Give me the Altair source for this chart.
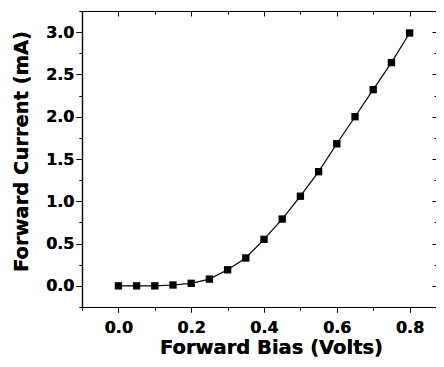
import altair as alt
import pandas as pd

# Data
bias_volts = [0.00, 0.05, 0.10, 0.15, 0.20, 0.25, 0.30, 0.35, 0.40,
              0.45, 0.50, 0.55, 0.60, 0.65, 0.70, 0.75, 0.80]
current_ma = [0.00, 0.00, 0.00, 0.01, 0.03, 0.08, 0.19, 0.33, 0.55,
              0.79, 1.06, 1.35, 1.68, 2.00, 2.32, 2.64, 2.99]

x_ticks = [-0.1, 0.0, 0.1, 0.2, 0.3, 0.4, 0.5, 0.6, 0.7, 0.8]
y_ticks = [-0.25, 0.0, 0.25, 0.5, 0.75, 1.0, 1.25, 1.5, 1.75, 2.0,
           2.25, 2.5, 2.75, 3.0, 3.25]
# the reference frame is cut at the right edge of the picture
x_domain = [-0.1, 0.8725]
y_domain = [-0.25, 3.25]

x_title = "Forward Bias (Volts)"
y_title = "Forward Current (mA)"

df = pd.DataFrame({"bias": bias_volts, "current": current_ma})

W, H = 354, 296
FONT = "DejaVu Sans"

x_major = "round(datum.value*10) % 2 == 0"
y_major = "round(datum.value*4) % 2 == 0"

x_scale = alt.Scale(domain=x_domain, nice=False, zero=False)
y_scale = alt.Scale(domain=y_domain, nice=False, zero=False)

x_main = alt.X(
    "bias:Q", scale=x_scale,
    axis=alt.Axis(
        orient="bottom", values=x_ticks, grid=False,
        tickSize={"condition": {"test": x_major, "value": 5}, "value": 3},
        labelExpr=f"{x_major} ? format(datum.value, '.1f') : ''",
        labelPadding=7, labelFont=FONT, labelFontSize=16, labelFontWeight="bold",
        labelColor="black", labelFlush=False, labelOverlap=False,
        tickColor="black", domainColor="black", tickWidth=1, domainWidth=1.2,
        title=x_title, titleFont=FONT, titleFontSize=19.5, titleFontWeight="bold",
        titleColor="black", titleX=189, titleY=46, titleBaseline="alphabetic",
    ),
)
y_main = alt.Y(
    "current:Q", scale=y_scale,
    axis=alt.Axis(
        orient="left", values=y_ticks, grid=False,
        tickSize={"condition": {"test": y_major, "value": 6}, "value": 3},
        labelExpr=f"{y_major} ? format(datum.value, '.1f') : ''",
        labelPadding=2, labelFont=FONT, labelFontSize=16, labelFontWeight="bold",
        labelColor="black", labelFlush=False, labelOverlap=False,
        tickColor="black", domainColor="black", tickWidth=1, domainWidth=1.2,
        title=y_title, titleFont=FONT, titleFontSize=19.5, titleFontWeight="bold",
        titleColor="black", titleX=-55, titleY=140, titleBaseline="alphabetic",
        titleAngle=270,
    ),
)

base = alt.Chart(df)

line = base.mark_line(color="black", strokeWidth=1.2).encode(x=x_main, y=y_main)
pts = base.mark_point(shape="square", filled=True, color="black", size=54,
                      opacity=1).encode(x=x_main, y=y_main)

# mirrored axes (top and right) with inward ticks
x_top = alt.X(
    "bias:Q", scale=x_scale,
    axis=alt.Axis(
        orient="bottom", offset=-H, values=x_ticks, grid=False, labels=False,
        title=None,
        tickSize={"condition": {"test": x_major, "value": 5}, "value": 3},
        tickColor="black", domainColor="black", tickWidth=1, domainWidth=1.2,
    ),
)
y_right = alt.Y(
    "current:Q", scale=y_scale,
    axis=alt.Axis(
        orient="left", offset=-W, values=y_ticks, grid=False, labels=False,
        title=None, domain=False,
        tickSize={"condition": {"test": y_major, "value": 4}, "value": 2},
        tickColor="black", tickWidth=1,
    ),
)
mirror = base.mark_point(opacity=0).encode(x=x_top, y=y_right)

chart = (
    alt.layer(line, pts, mirror)
    .resolve_axis(x="independent", y="independent")
    .properties(
        width=W, height=H,
        autosize=alt.AutoSizeParams(type="none"),
        padding={"left": 74, "top": 3, "right": 0, "bottom": 52},
        background="white",
    )
    .configure_view(stroke=None)
)

chart.save("out.html", embed_options={"renderer": "svg", "actions": False})
